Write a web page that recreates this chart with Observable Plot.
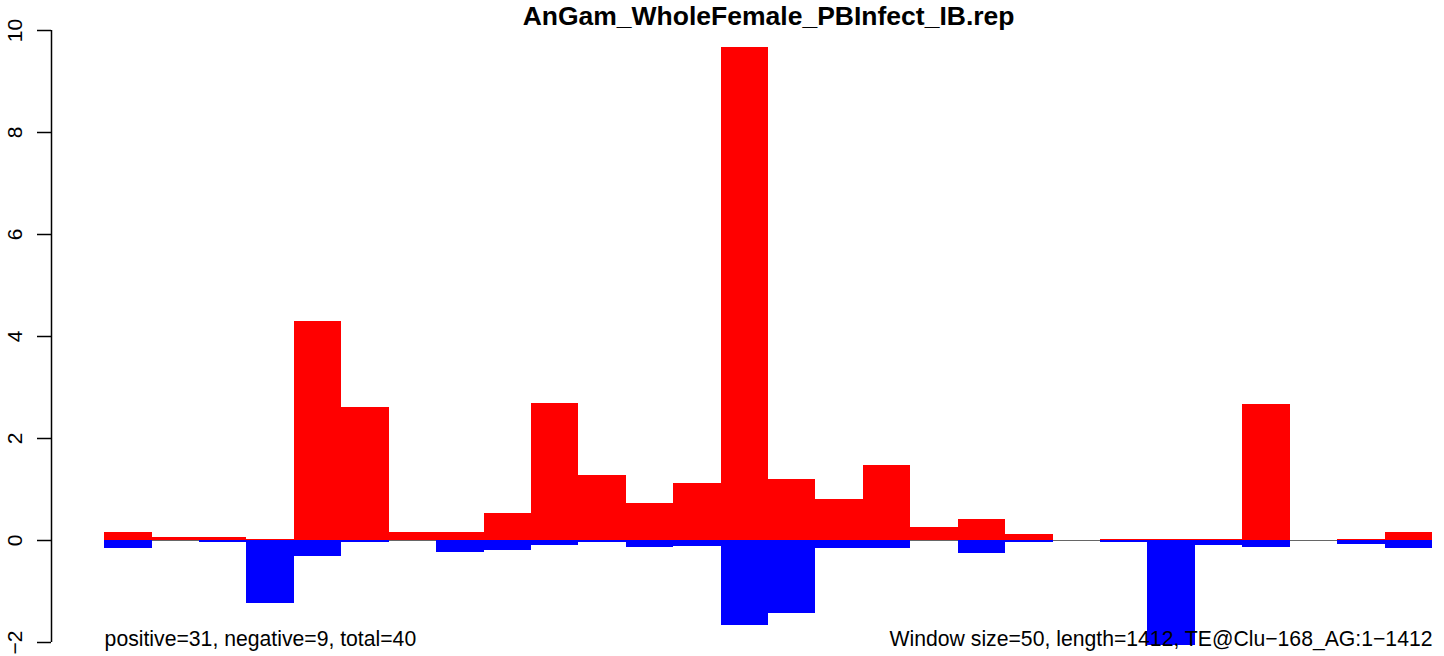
<!DOCTYPE html>
<html>
<head>
<meta charset="utf-8">
<script src="https://cdn.jsdelivr.net/npm/d3@7"></script>
<script src="https://cdn.jsdelivr.net/npm/@observablehq/plot@0.6"></script>
<style>
  html, body { margin: 0; padding: 0; background: #fff; overflow: hidden; }
  svg { display: block; }
</style>
</head>
<body>
<div id="chart"></div>
<script>
// ---- data ----
const windowIndex = d3.range(28); // 28 windows of size 50
const positiveValues = [0.16, 0.06, 0.06, 0.02, 4.29, 2.61, 0.16, 0.16, 0.53, 2.68, 1.27, 0.72, 1.12, 9.66,
                        1.19, 0.80, 1.47, 0.25, 0.41, 0.12, 0, 0.02, 0.02, 0.02, 2.66, 0, 0.02, 0.16];
const negativeValues = [-0.16, 0, -0.04, -1.23, -0.31, -0.04, 0, -0.24, -0.20, -0.10, -0.04, -0.14, -0.11, -1.66,
                        -1.44, -0.16, -0.16, 0, -0.25, -0.04, 0, -0.04, -2.06, -0.10, -0.13, 0, -0.08, -0.16];
const yTickValues = [-2, 0, 2, 4, 6, 8, 10];
const titleText = "AnGam_WholeFemale_PBInfect_IB.rep";
const leftNote = "positive=31, negative=9, total=40";
const rightNote = "Window size=50, length=1412, TE@Clu\u2212168_AG:1\u22121412";

// ---- table built from the arrays ----
const rows = windowIndex.map(i => ({i, pos: positiveValues[i], neg: negativeValues[i]}));
const nBars = windowIndex.length;
const xDomain = [-0.04 * nBars, 28.253];
const fmt = d => (d < 0 ? "\u2212" + Math.abs(d) : String(d));
const FONT = "'Liberation Sans', Arial, Helvetica, sans-serif";

const chart = Plot.plot({
  width: 1444,
  height: 656,
  marginLeft: 51,
  marginRight: 0,
  marginTop: 30,
  marginBottom: 14,
  style: {fontFamily: FONT, background: "#fff", color: "#000"},
  x: {type: "linear", domain: xDomain, axis: null},
  y: {domain: [-2, 10], axis: null},
  marks: [
    // baseline
    Plot.ruleY([0], {x1: 0, x2: nBars, stroke: "#666666", strokeWidth: 1}),
    // bars
    Plot.rect(rows, {x1: "i", x2: d => d.i + 1, y1: 0, y2: "pos", fill: "#ff0000", inset: 0, shapeRendering: "crispEdges"}),
    Plot.rect(rows, {x1: "i", x2: d => d.i + 1, y1: 0, y2: "neg", fill: "#0000ff", inset: 0, shapeRendering: "crispEdges"}),
    // y axis line + ticks
    Plot.ruleX([xDomain[0]], {y1: yTickValues[0], y2: yTickValues[yTickValues.length - 1], stroke: "#000", strokeWidth: 1.5}),
    Plot.axisY({ticks: yTickValues, tickSize: 14, tickFormat: () => "", stroke: "#000", strokeWidth: 1.5, label: null}),
    Plot.text(yTickValues, {y: d => d, text: fmt, frameAnchor: "left", dx: -36, rotate: -90,
      textAnchor: "middle", lineAnchor: "middle", fontSize: 21, fill: "#000"}),
    // title
    Plot.text([titleText], {x: nBars / 2, frameAnchor: "top", text: d => d, dy: -6, lineAnchor: "bottom",
      fontSize: 26.5, fontWeight: "bold", fill: "#000"}),
    // bottom notes
    Plot.text([leftNote], {x: 0, frameAnchor: "bottom", text: d => d, textAnchor: "start", lineAnchor: "bottom",
      dy: 3, fontSize: 21.2, fill: "#000"}),
    Plot.text([rightNote], {x: nBars, frameAnchor: "bottom", text: d => d, textAnchor: "end", lineAnchor: "bottom",
      dy: 3, fontSize: 21.2, fill: "#000"})
  ]
});
document.getElementById("chart").appendChild(chart);
</script>
</body>
</html>
